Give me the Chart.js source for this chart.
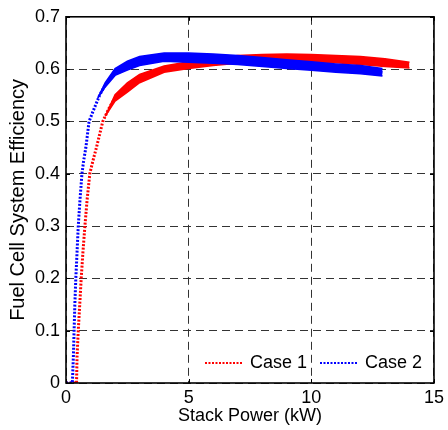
<!DOCTYPE html>
<html>
<head>
<meta charset="utf-8">
<script src="https://cdn.jsdelivr.net/npm/chart.js@4/dist/chart.umd.min.js"></script>
<style>
  html, body { margin: 0; padding: 0; background: #fff; }
  #wrap { width: 448px; height: 430px; }
</style>
</head>
<body>
<div id="wrap"><canvas id="c" width="448" height="430"></canvas></div>
<script>
// ---- Data ----
const seriesNames = ['Case 1', 'Case 2'];
const xTicks = [0, 5, 10, 15];
const yTicks = [0, 0.1, 0.2, 0.3, 0.4, 0.5, 0.6, 0.7];

// Case 1 (red) curve
const case1Power = [0, 0.43, 0.45, 0.5, 0.56, 0.62, 0.69, 0.77, 0.86, 0.97, 1.1, 1.24, 1.37, 1.5, 1.75, 2, 2.5, 3, 4, 5, 6, 7, 8, 9, 10, 11, 12, 13, 14];
const case1Eff   = [0, 0, 0.05, 0.1, 0.15, 0.2, 0.25, 0.3, 0.35, 0.4, 0.425, 0.45, 0.475, 0.5, 0.525, 0.545, 0.565, 0.582, 0.6, 0.608, 0.614, 0.619, 0.621, 0.621, 0.621, 0.619, 0.616, 0.612, 0.608];
// Case 1 scatter band (lower / upper edge)
const case1BandPower = [1.6, 2, 2.5, 3, 4, 5, 6, 7, 8, 9, 10, 11, 12, 13, 14];
const case1BandLow   = [0.51, 0.539, 0.556, 0.574, 0.594, 0.601, 0.607, 0.611, 0.613, 0.614, 0.614, 0.612, 0.609, 0.605, 0.602];
const case1BandHigh  = [0.51, 0.551, 0.574, 0.59, 0.606, 0.614, 0.621, 0.626, 0.628, 0.629, 0.628, 0.626, 0.624, 0.62, 0.613];

// Case 2 (blue) curve
const case2Power = [0, 0.26, 0.3, 0.33, 0.36, 0.4, 0.45, 0.5, 0.57, 0.65, 0.72, 0.81, 0.94, 1.15, 1.37, 1.6, 2, 2.5, 3, 4, 5, 6, 7, 8, 9, 10, 11, 12, 12.9];
const case2Eff   = [0, 0, 0.05, 0.1, 0.15, 0.2, 0.25, 0.3, 0.35, 0.4, 0.425, 0.45, 0.5, 0.525, 0.55, 0.57, 0.595, 0.606, 0.615, 0.623, 0.622, 0.62, 0.617, 0.613, 0.609, 0.606, 0.602, 0.599, 0.594];
// Case 2 scatter band (lower / upper edge)
const case2BandPower = [1.3, 1.6, 2, 2.5, 3, 4, 5, 6, 7, 8, 9, 10, 11, 12, 12.9];
const case2BandLow   = [0.545, 0.566, 0.588, 0.598, 0.607, 0.615, 0.613, 0.611, 0.609, 0.605, 0.601, 0.598, 0.594, 0.591, 0.587];
const case2BandHigh  = [0.545, 0.574, 0.601, 0.615, 0.624, 0.631, 0.631, 0.629, 0.626, 0.622, 0.618, 0.614, 0.61, 0.607, 0.601];

const RED = '#ff0000';
const BLUE = '#0000ff';
const FONT = 'Arial, "Liberation Sans", sans-serif';

function pts(xs, ys) { return xs.map((x, i) => ({ x: x, y: ys[i] })); }

function curve(label, xs, ys, color, order) {
  return { label, data: pts(xs, ys), borderColor: color, backgroundColor: color,
    borderWidth: 3, borderDash: [2, 1.6], pointRadius: 0, fill: false, tension: 0, order };
}
function band(label, xs, ys, color, order, fill) {
  return { label, data: pts(xs, ys), borderColor: color, backgroundColor: color,
    borderWidth: 1.5, pointRadius: 0, fill: fill, tension: 0, order };
}

const frame = {
  id: 'frame',
  afterDraw(chart) {
    const { ctx, chartArea: a, scales } = chart;
    ctx.save();
    // inward ticks
    ctx.strokeStyle = '#000';
    ctx.lineWidth = 1;
    ctx.beginPath();
    xTicks.forEach(v => {
      const px = Math.round(scales.x.getPixelForValue(v)) + 0.5;
      ctx.moveTo(px, a.bottom); ctx.lineTo(px, a.bottom - 4);
      ctx.moveTo(px, a.top); ctx.lineTo(px, a.top + 4);
    });
    yTicks.forEach(v => {
      const py = Math.round(scales.y.getPixelForValue(v)) + 0.5;
      ctx.moveTo(a.left, py); ctx.lineTo(a.left + 4, py);
      ctx.moveTo(a.right, py); ctx.lineTo(a.right - 4, py);
    });
    ctx.stroke();
    // box
    ctx.lineWidth = 1.6;
    ctx.strokeRect(a.left, a.top, a.right - a.left, a.bottom - a.top);

    // legend
    const ly = 363;
    ctx.font = '18px ' + FONT;
    ctx.textBaseline = 'middle';
    ctx.fillStyle = '#000';
    const items = [
      { x0: 205, x1: 243, tx: 250, color: RED, text: seriesNames[0] },
      { x0: 320, x1: 358, tx: 365, color: BLUE, text: seriesNames[1] }
    ];
    items.forEach(it => {
      ctx.strokeStyle = it.color;
      ctx.lineWidth = 2;
      ctx.setLineDash([2, 1.5]);
      ctx.beginPath();
      ctx.moveTo(it.x0, ly); ctx.lineTo(it.x1, ly);
      ctx.stroke();
      ctx.setLineDash([]);
      ctx.fillText(it.text, it.tx, ly);
    });
    ctx.restore();
  }
};

new Chart(document.getElementById('c'), {
  type: 'line',
  data: {
    datasets: [
      curve(seriesNames[0], case1Power, case1Eff, RED, 1),
      band('c1lo', case1BandPower, case1BandLow, RED, 1, false),
      band('c1hi', case1BandPower, case1BandHigh, RED, 1, '-1'),
      curve(seriesNames[1], case2Power, case2Eff, BLUE, 0),
      band('c2lo', case2BandPower, case2BandLow, BLUE, 0, false),
      band('c2hi', case2BandPower, case2BandHigh, BLUE, 0, '-1')
    ]
  },
  options: {
    responsive: false,
    animation: false,
    devicePixelRatio: 1,
    layout: { padding: { top: 13, right: 11, left: 0, bottom: 0 } },
    plugins: { legend: { display: false }, tooltip: { enabled: false } },
    scales: {
      x: {
        type: 'linear', min: 0, max: 15,
        afterBuildTicks: s => { s.ticks = xTicks.map(v => ({ value: v })); },
        afterFit: s => { s.height = 47; },
        ticks: { color: '#000', font: { family: FONT, size: 18 }, padding: 4, maxRotation: 0,
          callback: v => String(v) },
        grid: { color: '#333', lineWidth: 1, drawTicks: false },
        border: { display: false, dash: [8, 5] },
        title: { display: true, text: 'Stack Power (kW)', color: '#000',
          font: { family: FONT, size: 18 }, padding: { top: 0, bottom: 3 } }
      },
      y: {
        type: 'linear', min: 0, max: 0.7,
        afterBuildTicks: s => { s.ticks = yTicks.map(v => ({ value: v })); },
        afterFit: s => { s.width = 66; },
        ticks: { color: '#000', font: { family: FONT, size: 18 }, padding: 6,
          callback: v => (v === 0 ? '0' : v.toFixed(1)) },
        grid: { color: '#333', lineWidth: 1, drawTicks: false },
        border: { display: false, dash: [8, 5] },
        title: { display: true, text: 'Fuel Cell System Efficiency', color: '#000',
          font: { family: FONT, size: 20 }, padding: { top: 6, bottom: 0 } }
      }
    }
  },
  plugins: [frame]
});
</script>
</body>
</html>
